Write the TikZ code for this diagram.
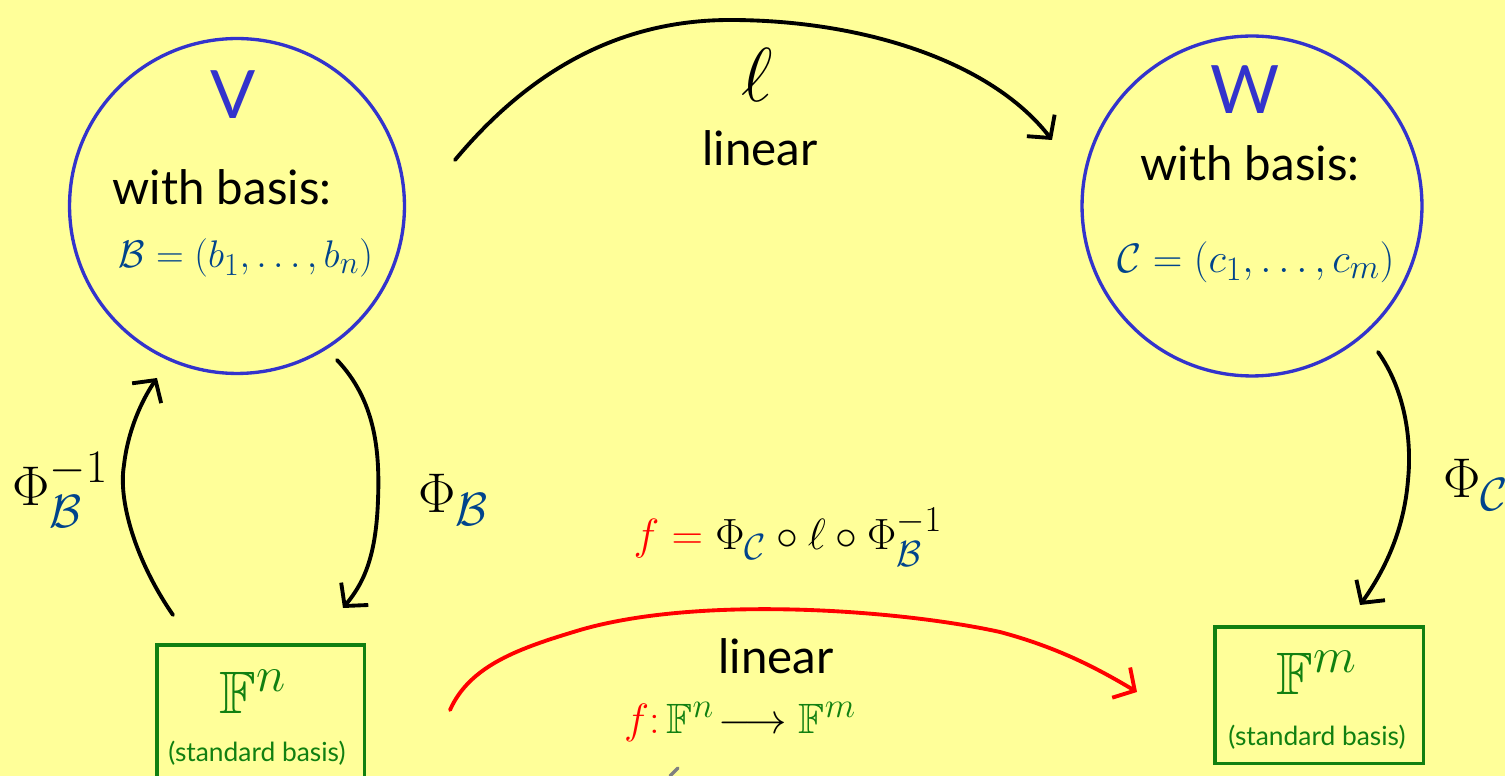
\documentclass[tikz,border=0pt]{standalone}
\usepackage{amssymb}
\usepackage{fontspec}
\setmainfont{Lato}
\usetikzlibrary{arrows.meta}
\definecolor{bg}{RGB}{255,255,153}
\definecolor{cblue}{RGB}{51,51,204}
\definecolor{dblue}{RGB}{0,68,140}
\definecolor{cgreen}{RGB}{17,128,17}
\definecolor{cred}{RGB}{255,0,0}
\newcommand{\fsz}[1]{\fontsize{#1}{#1}\selectfont}
\newcommand{\mth}[2]{\scalebox{#1}{$#2$}}
\begin{document}
\begin{tikzpicture}[x=0.02cm,y=-0.02cm,
  conn/.style={line width=2.2pt, line cap=round, line join=round,
    -{Straight Barb[length=9pt,width=20pt,line width=2.2pt]}},
  space/.style={draw=cblue, circle, line width=1.9pt, minimum size=6.7cm, inner sep=0pt},
  stdbox/.style={draw=cgreen, line width=2pt, inner sep=0pt, anchor=north west},
  lbl/.style={inner sep=0pt, font=\fsz{27}},
  mlbl/.style={inner sep=0pt, font=\fsz{24.88}},
  small/.style={inner sep=0pt, font=\fsz{15}, text=cgreen}]
\useasboundingbox (0,0) rectangle (1505,776);
\fill[bg] (0,0) rectangle (1505,776);
\begin{scope}
\clip (0,0) rectangle (1505,776);
% spaces
\node[space] (V) at (237,206) {};
\node[space, minimum size=6.8cm] (W) at (1252,206) {};
\node[inner sep=0pt, text=cblue, font=\fsz{38}] (Vl) at (233,95) {V};
\node[inner sep=0pt, text=cblue, font=\fsz{38}] (Wl) at (1245,90) {W};
\node[lbl] (Vb) at (222,187) {with basis:};
\node[lbl] (Wb) at (1250,163) {with basis:};
\node[mlbl, text=dblue] (Bb) at (246,258) {\mth{0.88}{\mathcal{B}=(b_1,\ldots,b_n)}};
\node[mlbl, text=dblue] (Cb) at (1256,262) {\mth{0.94}{\mathcal{C}=(c_1,\ldots,c_m)}};
% boxes
\node[stdbox, minimum width=4.16cm, minimum height=2.9cm] (Fn) at (155,643) {};
\node[stdbox, minimum width=4.18cm, minimum height=2.74cm] (Fm) at (1213,625) {};
\node[mlbl, text=cgreen] (Fnl) at (253,692) {\mth{1.37}{\mathbb{F}^n}};
\node[small] (Fns) at (257,753) {(standard basis)};
\node[mlbl, text=cgreen] (Fml) at (1317,673) {\mth{1.37}{\mathbb{F}^m}};
\node[small] (Fms) at (1317,737) {(standard basis)};
% labels
\node[mlbl] (ell) at (757,75) {\mth{1.75}{\ell}};
\node[lbl] (lin1) at (760,148) {linear};
\node[mlbl, anchor=west] (PhiBi) at (12,490) {\mth{1.28}{\Phi^{-1}_{\color{dblue}\mathcal{B}}}};
\node[mlbl, anchor=west] (PhiB) at (418,500) {\mth{1.28}{\Phi_{\color{dblue}\mathcal{B}}}};
\node[mlbl, anchor=west] (PhiC) at (1443,485) {\mth{1.28}{\Phi_{\color{dblue}\mathcal{C}}}};
\node[mlbl] (feq) at (788,537) {\mth{1.0}{\color{cred}f={}\color{black}\Phi_{\color{dblue}\mathcal{C}}\circ\ell\circ\Phi^{-1}_{\color{dblue}\mathcal{B}}}};
\node[lbl] (lin2) at (776,656) {linear};
\node[mlbl] (fmap) at (740,722) {\mth{0.97}{\color{cred}f\colon\color{cgreen}\mathbb{F}^n\color{black}\!\longrightarrow\color{cgreen}\mathbb{F}^m}};
% connector end points
\coordinate (lA) at (455,160);
\coordinate (lB) at (1052,140);
\coordinate (bA) at (337,360);
\coordinate (bB) at (343,608);
\coordinate (iA) at (173,615);
\coordinate (iB) at (157,378);
\coordinate (cA) at (1378,352);
\coordinate (cB) at (1360,605);
\coordinate (fA) at (450,710);
\coordinate (fB) at (1137,692);
% connectors
\draw[conn] (lA) .. controls (530,70) and (620,20) .. (730,20) .. controls (860,20) and (990,60) .. (lB);
\draw[conn] (bA) .. controls (375,400) and (380,450) .. (378,500) .. controls (376,560) and (362,585) .. (bB);
\draw[conn] (iA) .. controls (135,560) and (118,500) .. (124,465) .. controls (128,430) and (142,400) .. (iB);
\draw[conn] (cA) .. controls (1405,390) and (1412,440) .. (1408,480) .. controls (1404,530) and (1385,570) .. (cB);
\draw[conn, cred] (fA) .. controls (470,665) and (520,648) .. (580,630) .. controls (700,595) and (900,610) .. (1000,632) .. controls (1060,648) and (1100,670) .. (fB);
\draw[gray, line width=2pt, line cap=round] (670,776) -- (678,768);
\end{scope}
\end{tikzpicture}
\end{document}
